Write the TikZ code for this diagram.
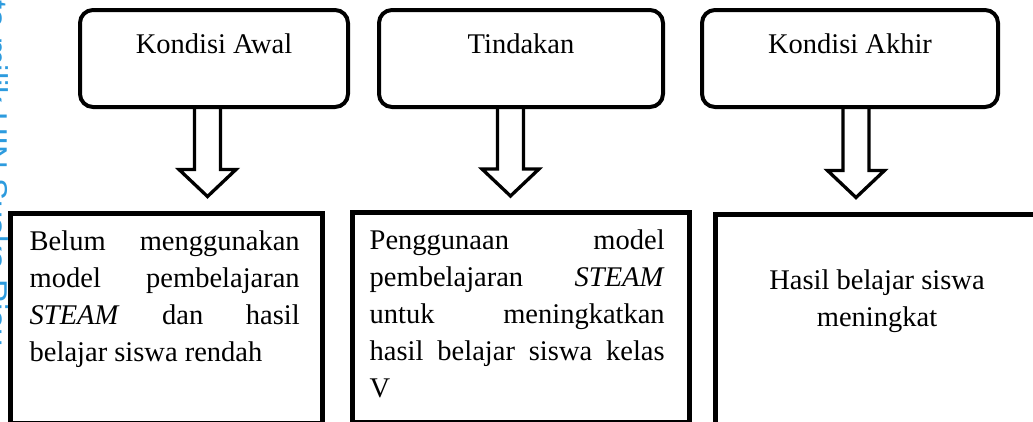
\documentclass[tikz,border=0pt]{standalone}
\usepackage{fontspec}
\setmainfont{Liberation Serif}
\newfontfamily\wmfont{Liberation Sans}
\usetikzlibrary{positioning,calc}
\definecolor{wmblue}{RGB}{45,155,222}

\begin{document}
\begin{tikzpicture}[x=1pt, y=-1pt,
  titlebox/.style={draw, line width=4pt, rounded corners=13pt, inner sep=0pt,
    text height=43pt, text depth=54pt, font=\fontsize{28.5}{37}\selectfont},
  descbox/.style={draw, line width=5pt, minimum height=210pt, inner sep=0pt},
  desctext/.style={inner sep=0pt, font=\fontsize{28.5}{37}\selectfont},
  blockarrow/.style={draw, line width=3.3pt}]
  \useasboundingbox (0,0) rectangle (1033,421);
  \clip (0,0) rectangle (1033,421);
  % Watermark
  \node[rotate=-90, anchor=base west, inner sep=0pt, text=wmblue,
    font=\wmfont\fontsize{33}{33}\selectfont] (wm) at (-15,-117) {Hak Cipta milik UIN Suska Riau};
  % Conditions
  \foreach \name/\cx/\w/\txt in {kAwal/214/268/Kondisi Awal, tindakan/521/284/Tindakan, kAkhir/850/296/Kondisi Akhir} {
    \node[titlebox, minimum width=\w pt] (\name) at (\cx,58.5) {\txt};
  }
  % Descriptions
  \node[descbox, minimum width=312pt] (dAwal) at (166.5,318) {};
  \node[descbox, minimum width=337pt] (dTindakan) at (521,317.5) {};
  \node[descbox, minimum width=330pt] (dAkhir) at (880.5,319) {};
  \node[desctext, text width=270pt, align=justify, anchor=north west] (tAwal)
    at ([xshift=21.5pt, yshift=-20pt]dAwal.north west)
    {Belum menggunakan\linebreak model pembelajaran\linebreak \textit{STEAM} dan hasil\linebreak belajar siswa rendah};
  \node[desctext, text width=295pt, align=justify, anchor=north west] (tTindakan)
    at ([xshift=19.5pt, yshift=-20pt]dTindakan.north west)
    {Penggunaan model\linebreak pembelajaran \textit{STEAM}\linebreak untuk meningkatkan\linebreak hasil belajar siswa kelas\linebreak V};
  \node[desctext, align=center, anchor=north] (tAkhir)
    at ([xshift=-3.5pt, yshift=-58pt]dAkhir.north) {Hasil belajar siswa\\meningkat};
  % Arrows
  \foreach \a/\b/\dx in {kAwal/dAwal/-6.5, tindakan/dTindakan/-10.5, kAkhir/dAkhir/6} {
    \draw[blockarrow] let \p1=([xshift=\dx pt]\a.south), \p2=([yshift=14pt]\b.north) in
      (\x1-13pt,\y1) -- (\x1-13pt,\y2+27pt) -- (\x1-28.5pt,\y2+27pt) -- (\x1,\y2)
      -- (\x1+28.5pt,\y2+27pt) -- (\x1+13pt,\y2+27pt) -- (\x1+13pt,\y1);
  }
\end{tikzpicture}
\end{document}
